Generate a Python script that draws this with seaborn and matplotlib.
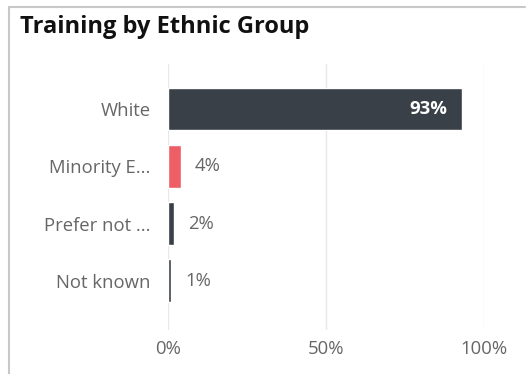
import matplotlib
matplotlib.use("Agg")
import matplotlib.pyplot as plt
import seaborn as sns
import pandas as pd
from matplotlib.lines import Line2D

groups = ["White", "Minority E...", "Prefer not ...", "Not known"]
shares = [93, 4, 2, 1]
bar_colors = ["#3A4047", "#EE5E66", "#3A4047", "#3A4047"]
x_ticks = [0, 50, 100]
x_tick_labels = ["0%", "50%", "100%"]

sns.set_theme(style="white")
plt.rcParams["font.family"] = ["Open Sans", "DejaVu Sans"]

df = pd.DataFrame({"group": groups, "share": shares})

fig = plt.figure(figsize=(5.26, 3.74), dpi=100)
ax = fig.add_axes([168 / 526, 1 - 330 / 374, (484 - 168) / 526, (330 - 64) / 374])

sns.barplot(data=df, x="share", y="group", hue="group", palette=bar_colors,
            saturation=1, legend=False, width=0.75, ax=ax, zorder=3)

fs = 13.3
ax.set_xlim(0, 100)
ax.set_ylim(3.855, -0.785)
ax.set_xticks(x_ticks)
ax.set_xticklabels(x_tick_labels, color="#666666", fontsize=fs)
ax.tick_params(axis="x", length=0, pad=7)
ax.tick_params(axis="y", length=0, pad=12.5, labelcolor="#666666", labelsize=fs)
ax.set_xlabel("")
ax.set_ylabel("")
for s in ax.spines.values():
    s.set_visible(False)
ax.grid(axis="x", color="#E8E8E8", linewidth=1, zorder=0)
ax.grid(axis="y", visible=False)

# value labels: inside the long bar, outside the short ones
for i, v in enumerate(shares):
    if v > 50:
        ax.text(v - 4.6, i, f"{v}%", ha="right", va="center", color="white",
                fontsize=fs, fontweight="bold", zorder=4)
    else:
        ax.text(v + 4.5, i, f"{v}%", ha="left", va="center", color="#666666",
                fontsize=fs, zorder=4)

# card frame and title
fig.add_artist(Line2D([9.5 / 526, 9.5 / 526], [0, 1 - 7 / 374],
                      transform=fig.transFigure, color="#C8C8C8", lw=1.5))
fig.add_artist(Line2D([9.5 / 526, 525 / 526], [1 - 7 / 374, 1 - 7 / 374],
                      transform=fig.transFigure, color="#C8C8C8", lw=1.5))
fig.text(20 / 526, 1 - 27 / 374, "Training by Ethnic Group", fontsize=17,
         fontweight="bold", color="#111111", va="center", ha="left")

fig.savefig("out.png", dpi=100, facecolor="white")
